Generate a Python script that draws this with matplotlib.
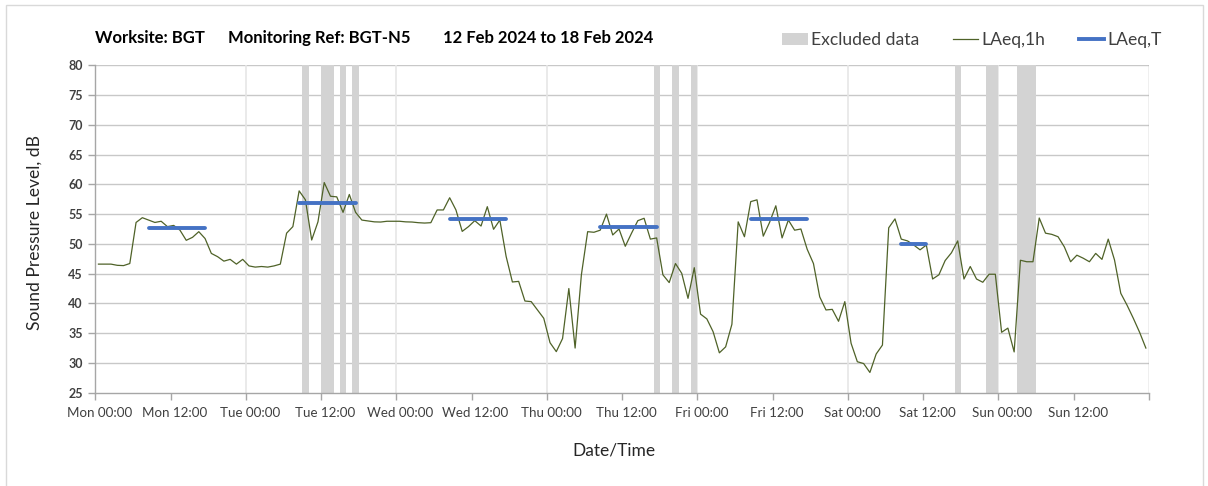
import numpy as np
import matplotlib
matplotlib.use("Agg")
import matplotlib.pyplot as plt
import matplotlib.transforms as mtransforms
from matplotlib.patches import Patch, Rectangle
from matplotlib.lines import Line2D

# ---------------- data ----------------
day_names = ["Mon", "Tue", "Wed", "Thu", "Fri", "Sat", "Sun"]
tick_labels = [f"{d} {h}" for d in day_names for h in ("00:00", "12:00")]

# hourly LAeq,1h values, Mon 00:00 -> Sun 23:00
laeq_1h = [
    46.6, 46.6, 46.6, 46.4, 46.35, 46.7,
    53.6, 54.4, 54.0, 53.6, 53.8, 52.9,
    53.1, 52.3, 50.6, 51.1, 52.05, 50.9,
    48.4, 47.85, 47.1, 47.4, 46.6, 47.4,
    46.3, 46.1, 46.2, 46.1, 46.3, 46.6,
    51.8, 52.9, 58.9, 57.4, 50.65, 53.7,
    60.3, 58.0, 57.9, 55.3, 58.3, 55.3,
    54.0, 53.85, 53.7, 53.67, 53.8, 53.8,
    53.8, 53.7, 53.67, 53.56, 53.5, 53.56,
    55.7, 55.7, 57.75, 55.7, 52.1, 52.9,
    53.9, 53.0, 56.25, 52.45, 54.0, 47.9,
    43.6, 43.7, 40.4, 40.3, 38.9, 37.5,
    33.4, 31.9, 34.1, 42.5, 32.5, 44.8,
    52.05, 51.95, 52.3, 55.0, 51.5, 52.5,
    49.6, 51.8, 53.9, 54.3, 50.8, 51.0,
    44.8, 43.5, 46.7, 45.05, 40.85, 46.0,
    38.2, 37.4, 35.25, 31.7, 32.7, 36.5,
    53.7, 51.2, 57.1, 57.4, 51.3, 53.6,
    56.4, 51.0, 54.0, 52.3, 52.5, 49.1,
    46.7, 41.1, 38.9, 39.0, 37.0, 40.3,
    33.3, 30.2, 29.9, 28.4, 31.5, 33.0,
    52.7, 54.2, 50.8, 50.5, 49.8, 49.0,
    49.8, 44.1, 44.8, 47.2, 48.5, 50.5,
    44.1, 46.2, 44.1, 43.55, 44.9, 44.9,
    35.15, 35.85, 31.85, 47.25, 47.0, 47.0,
    54.35, 51.8, 51.6, 51.2, 49.5, 47.0,
    48.1, 47.6, 47.0, 48.4, 47.4, 50.8,
    47.3, 41.7, 39.7, 37.5, 35.15, 32.5,
]

# LAeq,T periods (hours from Mon 00:00) and values
laeq_t_start = [8, 32, 56, 80, 104, 128]
laeq_t_end = [18, 42, 66, 90, 114, 133]
laeq_t_value = [52.6, 56.9, 54.2, 52.8, 54.2, 49.9]

# excluded-data periods (hours from Mon 00:00)
excl_start = [33, 36, 39, 41, 89, 92, 95, 137, 142, 147]
excl_end = [34, 38, 40, 42, 90, 93, 96, 138, 144, 150]

# ---------------- figure ----------------
W, H = 1208, 486
fig = plt.figure(figsize=(W / 100, H / 100), dpi=100)
plt.rcParams["font.family"] = ["Lato", "DejaVu Sans"]

# light frame around chart area
fig.patches.append(Rectangle((6 / W, -0.01), (1203 - 6) / W, 1 - 5 / H + 0.01,
                             transform=fig.transFigure, fill=False,
                             edgecolor="#d9d9d9", linewidth=1.0))

ax = fig.add_axes([95.3 / W, 1 - 392.7 / H, (1149 - 95.3) / W, (392.7 - 65.3) / H])

hours = np.arange(len(laeq_1h)) + 0.5

for s, e in zip(excl_start, excl_end):
    ax.axvspan(s, e, color="#d3d3d3", lw=0, zorder=1)

ax.plot(hours, laeq_1h, color="#4f6228", lw=0.9, zorder=3)

for s, e, v in zip(laeq_t_start, laeq_t_end, laeq_t_value):
    ax.plot([s + 0.5, e - 0.5], [v, v], color="#4472c4", lw=2.8,
            solid_capstyle="round", zorder=4)

ax.set_xlim(0, 168)
ax.set_ylim(25, 80)
ax.set_yticks(np.arange(25, 81, 5))
ax.set_xticks(np.arange(0, 169, 12))
ax.set_xticklabels(tick_labels + [""])

# grid
for yv in np.arange(30, 81, 5):
    ax.axhline(yv, color="#c8c8c8", lw=1.0, zorder=0)
for xv in np.arange(24, 168, 24):
    ax.axvline(xv, color="#e6e6e6", lw=1.2, zorder=0)
ax.axvline(168, color="#b0b0b0", lw=1.0, zorder=0)

for side in ("top", "right"):
    ax.spines[side].set_visible(False)
for side in ("left", "bottom"):
    ax.spines[side].set_color("#a6a6a6")
    ax.spines[side].set_linewidth(1.0)

ax.tick_params(axis="both", direction="out", color="#a6a6a6", length=5, width=1)
ax.tick_params(axis="x", labelsize=9.6, labelcolor="#404040", pad=5)
ax.tick_params(axis="y", labelsize=9, labelcolor="#404040", pad=4)
offset = mtransforms.ScaledTranslation(4 / 100, 0, fig.dpi_scale_trans)
for lab in ax.get_xticklabels():
    lab.set_transform(lab.get_transform() + offset)
for lab in ax.get_yticklabels():
    lab.set_fontweight("bold")

fig.text(35 / W, 1 - 232 / H, "Sound Pressure Level, dB", rotation=90,
         ha="center", va="center", fontsize=12.6, color="#262626")
fig.text(614 / W, 1 - 450 / H, "Date/Time", ha="center", va="center",
         fontsize=12.5, color="#262626")

ty = 1 - 38 / H
fig.text(95 / W, ty, "Worksite: BGT", fontsize=12, fontweight="bold", va="center")
fig.text(228 / W, ty, "Monitoring Ref: BGT-N5", fontsize=12, fontweight="bold", va="center")
fig.text(443 / W, ty, "12 Feb 2024 to 18 Feb 2024", fontsize=12, fontweight="bold", va="center")

handles = [Patch(facecolor="#d3d3d3", edgecolor="none"),
           Line2D([0], [0], color="#4f6228", lw=0.9),
           Line2D([0], [0], color="#4472c4", lw=2.8)]
fig.legend(handles, ["Excluded data", "LAeq,1h", "LAeq,T"], ncol=3,
           loc="center", bbox_to_anchor=(972 / W, 1 - 40 / H), frameon=False,
           fontsize=12.6, handlelength=1.45, handletextpad=0.2, columnspacing=1.9,
           labelcolor="#404040")

fig.savefig("out.png", dpi=100)
